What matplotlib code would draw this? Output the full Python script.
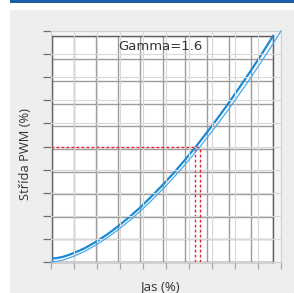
import matplotlib
matplotlib.use("Agg")
import matplotlib.pyplot as plt
import matplotlib.patches as mpatches

W, H = 294, 293

# brightness (%) and PWM duty (%)
jas = [0, 2.5, 5, 7.5, 10, 15, 20, 25, 30, 35, 40, 45, 50, 55, 60, 65, 70, 75, 80, 85, 90, 95, 100]
pwm_main = [1.5, 1.8, 2.3, 3.1, 4.0, 6.2, 9.0, 12.2, 15.9, 19.9, 24.2, 29.0, 34.0, 39.3,
            45.0, 50.9, 57.2, 63.7, 70.4, 77.5, 84.7, 92.2, 100]
pwm_ghost = [0, 0.3, 0.8, 1.6, 2.5, 4.8, 7.6, 10.9, 14.6, 18.6, 23.1, 27.9, 33.0, 38.4,
             44.2, 50.2, 56.5, 63.1, 70.0, 77.1, 84.5, 92.1, 100]
mark_jas = 64.8
mark_pwm = 50
gamma_label = "Gamma=1.6"


def fx(px):
    return px / W


def fy(py):
    return 1 - py / H


fig = plt.figure(figsize=(W / 100, H / 100), dpi=100)
fig.patch.set_facecolor("white")

# grey panel and blue top rule
fig.patches.append(mpatches.Rectangle((fx(10), 0), 1 - fx(10), fy(10), transform=fig.transFigure,
                                      facecolor="#EDEEEE", edgecolor="none", zorder=-3))
fig.patches.append(mpatches.Rectangle((fx(10), fy(2.5)), 1 - fx(10), 2.5 / H, transform=fig.transFigure,
                                      facecolor="#1E5EA6", edgecolor="none", zorder=-3))

# lighter backdrop of the offset copy
gl, gr, gt, gb = 51, 281, 31, 262
fig.patches.append(mpatches.Rectangle((fx(gl), fy(gb)), fx(gr) - fx(gl), fy(gt) - fy(gb),
                                      transform=fig.transFigure, facecolor="#F5F5F5",
                                      edgecolor="none", zorder=-2))

# main plot
ml, mr, mt, mb = 52, 273, 36, 262
ax = fig.add_axes([fx(ml), fy(mb), fx(mr) - fx(ml), fy(mt) - fy(mb)])
ax.set_zorder(1)
ax.set_facecolor("white")
ax.set_xlim(0, 100)
ax.set_ylim(0, 100)
ax.set_xticks(range(0, 101, 10))
ax.set_yticks(range(0, 101, 10))
ax.grid(True, color="#9C9C9C", linewidth=1.0)
ax.tick_params(length=0, labelbottom=False, labelleft=False)
for s in ax.spines.values():
    s.set_color("#5E5E5E")
    s.set_linewidth(1.0)
ax.plot(jas, pwm_main, color="#1A8AD6", linewidth=1.6, zorder=3, clip_on=False)
ax.plot([mark_jas, mark_jas], [0, mark_pwm], color="#E5222B", linestyle=(0, (2, 1.6)),
        linewidth=1.0, zorder=2)

# offset (ghost) copy on top
gax = fig.add_axes([fx(gl), fy(gb), fx(gr) - fx(gl), fy(gt) - fy(gb)])
gax.set_zorder(2)
gax.set_facecolor("none")
gax.set_xlim(0, 100)
gax.set_ylim(0, 100)
gax.set_xticks(range(0, 101, 10))
gax.set_yticks(range(0, 101, 10))
gax.grid(True, color="#D8D8D8", linewidth=0.8)
gax.tick_params(axis="y", length=6, width=0.9, color="#707070", labelleft=False)
gax.tick_params(axis="x", length=5, width=0.9, color="#A8A8A8", labelbottom=False)
for s in gax.spines.values():
    s.set_color("#D0D0D0")
    s.set_linewidth(0.8)
gax.plot(jas, pwm_ghost, color="#4AAAE8", linewidth=0.9, zorder=3, clip_on=False)
gax.plot([0, mark_jas], [mark_pwm, mark_pwm], color="#E5222B", linestyle=(0, (2, 1.6)),
         linewidth=1.0, zorder=2)
gax.plot([mark_jas, mark_jas], [0, mark_pwm], color="#E5222B", linestyle=(0, (2, 1.6)),
         linewidth=1.0, zorder=2)

fig.text(fx(160), fy(47), gamma_label, ha="center", va="center", fontsize=9.5,
         color="#333333", family="DejaVu Sans", zorder=5)
fig.text(fx(160), fy(287), "Jas (%)", ha="center", va="center", fontsize=9.5,
         color="#333333", family="Open Sans")
fig.text(fx(26), fy(154), "Střída PWM (%)", ha="center", va="center", fontsize=9.3,
         rotation=90, color="#333333", family="Open Sans")

fig.savefig("out.png", dpi=100)
